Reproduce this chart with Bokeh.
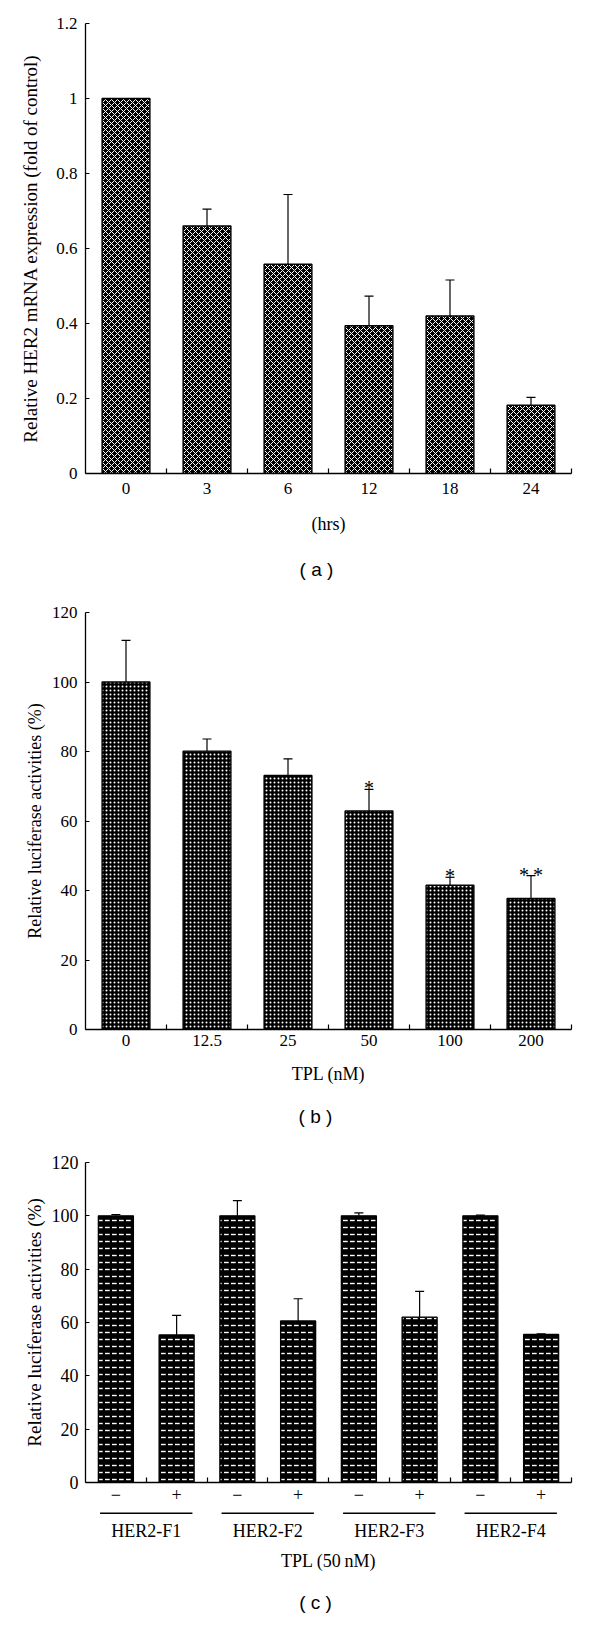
from bokeh.plotting import figure
from bokeh.models import (Range1d, FixedTicker, LinearAxis, Whisker, TeeHead,
                          ColumnDataSource)
from bokeh.layouts import column
from bokeh.embed import file_html
from bokeh.resources import INLINE
from bokeh.core.properties import value

SERIF = "Liberation Serif"
SANS = "Liberation Sans"

# ---------------- data ----------------
# Panel (a)
a_categories = ["0", "3", "6", "12", "18", "24"]
a_values = [1.0, 0.660, 0.558, 0.394, 0.420, 0.182]
a_upper = [1.0, 0.705, 0.744, 0.473, 0.516, 0.203]
a_yticks = [0, 0.2, 0.4, 0.6, 0.8, 1.0, 1.2]
a_ytick_labels = ["0", "0.2", "0.4", "0.6", "0.8", "1", "1.2"]

# Panel (b)
b_categories = ["0", "12.5", "25", "50", "100", "200"]
b_values = [100.0, 80.1, 73.1, 62.9, 41.5, 37.7]
b_upper = [112.0, 83.6, 77.9, 69.1, 43.8, 44.3]
b_stars = ["", "", "", "*", "*", "*\u2009*"]
b_yticks = [0, 20, 40, 60, 80, 100, 120]
b_ytick_labels = ["0", "20", "40", "60", "80", "100", "120"]

# Panel (c)
c_groups = ["HER2-F1", "HER2-F2", "HER2-F3", "HER2-F4"]
c_treatments = ["\u2212", "+"]
c_values = [100.0, 55.3, 100.0, 60.6, 100.0, 62.0, 100.0, 55.5]
c_upper = [100.5, 62.7, 105.7, 68.9, 101.1, 71.7, 100.3, 55.7]
c_yticks = [0, 20, 40, 60, 80, 100, 120]
c_ytick_labels = ["0", "20", "40", "60", "80", "100", "120"]

W = 584


def base_fig(height, x_range, y_range, left, top, bottom, right=13):
    p = figure(width=W, height=height, x_range=x_range, y_range=y_range,
               output_backend="svg", toolbar_location=None, title=None,
               x_axis_type=None, y_axis_type=None,
               min_border_left=left, min_border_right=right,
               min_border_top=top, min_border_bottom=bottom)
    p.outline_line_color = None
    p.background_fill_color = "white"
    p.border_fill_color = "white"
    return p


def add_bars(p, vals, ups, width, hatch, hscale, hweight):
    n = len(vals)
    centers = [i + 0.5 for i in range(n)]
    src = ColumnDataSource(dict(x=centers, top=vals))
    p.vbar(x="x", top="top", bottom=0, width=width, source=src,
           fill_color="black", line_color="black", line_width=1.4,
           hatch_pattern=hatch, hatch_color="white", hatch_scale=hscale,
           hatch_weight=hweight)
    ex = [c for c, v, u in zip(centers, vals, ups) if u > v]
    elo = [v for v, u in zip(vals, ups) if u > v]
    eup = [u for v, u in zip(vals, ups) if u > v]
    esrc = ColumnDataSource(dict(base=ex, lower=elo, upper=eup))
    w = Whisker(base="base", lower="lower", upper="upper", source=esrc,
                line_color="black", line_width=1.2,
                lower_head=None,
                upper_head=TeeHead(size=9, line_color="black", line_width=1.2))
    p.add_layout(w)
    return centers


def add_yaxis(p, ticks, labels, title, title_size, standoff, font_size="17px", lab_standoff=8):
    ax = LinearAxis(ticker=FixedTicker(ticks=ticks),
                    major_label_overrides={t: l for t, l in zip(ticks, labels)},
                    major_tick_in=4, major_tick_out=0, minor_tick_in=0, minor_tick_out=0,
                    axis_line_color="black", axis_line_width=1.3,
                    major_tick_line_color="black", major_tick_line_width=1.2,
                    major_label_text_font=SERIF, major_label_text_font_size=font_size,
                    major_label_text_color="black", major_label_standoff=lab_standoff,
                    axis_label=title, axis_label_text_font=SERIF,
                    axis_label_text_font_style="normal",
                    axis_label_text_font_size=title_size,
                    axis_label_text_color="black",
                    axis_label_standoff=standoff)
    p.add_layout(ax, "left")


def add_xaxis(p, centers, labels, lab_standoff, font_size="17px"):
    n = len(centers)
    ax = LinearAxis(ticker=FixedTicker(ticks=centers, minor_ticks=list(range(1, n + 1))),
                    major_label_overrides={c: l for c, l in zip(centers, labels)},
                    major_tick_in=0, major_tick_out=0, minor_tick_in=5, minor_tick_out=0,
                    axis_line_color="black", axis_line_width=1.3,
                    minor_tick_line_color="black", minor_tick_line_width=1.2,
                    major_label_text_font=SERIF, major_label_text_font_size=font_size,
                    major_label_text_color="black", major_label_standoff=lab_standoff)
    p.add_layout(ax, "below")


def strip(height, x_range, left):
    return base_fig(height, x_range, Range1d(0, height), left, 0, 0)


def strip_text(s, x, y, text, font, size, x_offset=0):
    s.text(x=[x], y=[y], text=[text], text_font=value(font), text_font_size=size,
           text_align="center", text_baseline="middle", text_color="black",
           x_offset=x_offset)


# ---------------- panel (a) ----------------
na = len(a_categories)
pa = base_fig(507, Range1d(0, na), Range1d(0, 1.2), left=83, top=23, bottom=34)
ca = add_bars(pa, a_values, a_upper, 0.59, "diagonal_cross", 6, 1.0)
add_yaxis(pa, a_yticks, a_ytick_labels,
          "Relative HER2 mRNA expression (fold of control)", "19px", 12)
add_xaxis(pa, ca, a_categories, 9)

sa = strip(85, pa.x_range, 83)
strip_text(sa, na / 2, 69, "(hrs)", SERIF, "18px")
strip_text(sa, na / 2, 23, "( a )", SANS, "19px", x_offset=-12)

# ---------------- panel (b) ----------------
nb = len(b_categories)
pb = base_fig(465, Range1d(0, nb), Range1d(0, 120), left=72, top=20, bottom=28)
cb = add_bars(pb, b_values, b_upper, 0.59, "dot", 4, 1.4)
add_yaxis(pb, b_yticks, b_ytick_labels, "Relative luciferase activities (%)", "18px", 4)
add_xaxis(pb, cb, b_categories, 5)
star_src = ColumnDataSource(dict(x=cb, y=b_upper, t=b_stars))
pb.text(x="x", y="y", text="t", source=star_src, text_font=value(SERIF),
        text_font_size="20px", text_align="center", text_baseline="alphabetic",
        y_offset=-1, text_color="black")

sb = strip(75, pb.x_range, 72)
strip_text(sb, nb / 2, 59, "TPL (nM)", SERIF, "18px")
strip_text(sb, nb / 2, 16, "( b )", SANS, "19px", x_offset=-13)

# ---------------- panel (c) ----------------
n_c = len(c_values)
pc = base_fig(378, Range1d(0, n_c), Range1d(0, 120), left=85, top=30, bottom=28)
cc = add_bars(pc, c_values, c_upper, 0.575, "horizontal_dash", 7, 1.4)
add_yaxis(pc, c_yticks, c_ytick_labels, "Relative luciferase activities (%)", "19px", 4,
          font_size="18px", lab_standoff=7)
c_tick_labels = [c_treatments[i % 2] for i in range(n_c)]
add_xaxis(pc, cc, c_tick_labels, 5, font_size="18px")

sc = strip(103, pc.x_range, 85)
per = len(c_treatments)
g_start = [i * per + 0.24 for i in range(len(c_groups))]
g_end = [i * per + per - 0.24 for i in range(len(c_groups))]
g_mid = [i * per + per / 2 for i in range(len(c_groups))]
gsrc = ColumnDataSource(dict(x0=g_start, x1=g_end, xm=g_mid, name=c_groups))
sc.segment(x0="x0", x1="x1", y0=100.3, y1=100.3, source=gsrc, line_color="black", line_width=1.5)
sc.text(x="xm", y=83, text="name", source=gsrc, text_font=value(SERIF),
        text_font_size="18px", text_align="center", text_baseline="middle", text_color="black")
strip_text(sc, n_c / 2, 53, "TPL (50\u2009nM)", SERIF, "18px")
strip_text(sc, n_c / 2, 11, "( c )", SANS, "19px", x_offset=-13)

layout = column(pa, sa, pb, sb, pc, sc, spacing=0)
open("out.html", "w").write(file_html(layout, INLINE))
